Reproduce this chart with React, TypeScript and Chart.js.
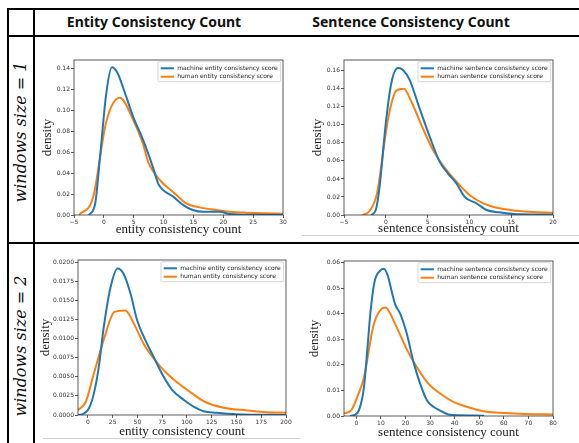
import React, { useEffect, useRef } from "react";
import { Chart, registerables } from "chart.js";
Chart.register(...registerables);

const BLUE = "#1f77b4";
const ORANGE = "#ff7f0e";

// ---------- column / row headers ----------
const columnHeaders = ["Entity Consistency Count", "Sentence Consistency Count"];
const rowHeaders = ["windows size = 1", "windows size = 2"];

// ---------- legend labels ----------
const entityLabels = ["machine entity consistency score", "human entity consistency score"];
const sentenceLabels = ["machine sentence consistency score", "human sentence consistency score"];

// ---------- window size 1, entity ----------
const e1MachineX = [-2.5, -1.45, -0.6, 0.4, 1.35, 2.25, 3.2, 4.9, 6.55, 8.2, 9.1, 9.9, 11.6, 13.3, 14.9, 16.6, 19.4, 21.1, 23.9, 30];
const e1MachineY = [0, 0.011, 0.058, 0.116, 0.141, 0.136, 0.122, 0.094, 0.072, 0.046, 0.03, 0.024, 0.0175, 0.0095, 0.0048, 0.003, 0.003, 0.001, 0.0003, 0.0003];
const e1HumanX = [-4.15, -1.8, 0.4, 2.65, 4.9, 6.55, 7.4, 9.6, 11.6, 13.8, 16.0, 18.8, 21.1, 23.9, 26.7, 30];
const e1HumanY = [0, 0.017, 0.089, 0.112, 0.091, 0.068, 0.051, 0.032, 0.022, 0.011, 0.0073, 0.0048, 0.0032, 0.0022, 0.0016, 0.0013];
const e1XTicks = [-5, 0, 5, 10, 15, 20, 25, 30];
const e1YTicks = [0, 0.02, 0.04, 0.06, 0.08, 0.1, 0.12, 0.14];

// ---------- window size 1, sentence ----------
const s1MachineX = [-1.75, -1.2, -0.75, 0, 0.65, 1.45, 2.05, 2.85, 4.05, 5.25, 6.45, 7.45, 8.45, 9.45, 10.85, 12.05, 13.6, 16.0, 20];
const s1MachineY = [0, 0.0055, 0.031, 0.102, 0.146, 0.163, 0.161, 0.15, 0.118, 0.087, 0.059, 0.046, 0.035, 0.02, 0.013, 0.0055, 0.003, 0.0007, 0.0004];
const s1HumanX = [-2.8, -1.95, -1.05, 0, 0.45, 1.25, 2.15, 3.05, 4.25, 5.65, 7.25, 8.85, 10.05, 11.65, 13.6, 15.6, 17.6, 20];
const s1HumanY = [0, 0.0044, 0.024, 0.091, 0.115, 0.138, 0.14, 0.126, 0.1, 0.072, 0.05, 0.033, 0.022, 0.013, 0.0074, 0.0048, 0.0033, 0.0026];
const s1XTicks = [-5, 0, 5, 10, 15, 20];
const s1YTicks = [0, 0.02, 0.04, 0.06, 0.08, 0.1, 0.12, 0.14, 0.16];

// ---------- window size 2, entity ----------
const e2MachineX = [-10, -4, 1, 6, 11, 16, 22.8, 30, 36, 43, 49.7, 58, 66.4, 76.5, 85, 96.6, 106.7, 116.8, 130, 150, 200];
const e2MachineY = [0, 0.0002, 0.00087, 0.0028, 0.0063, 0.0115, 0.0167, 0.0192, 0.0185, 0.0159, 0.0124, 0.0098, 0.0076, 0.005, 0.0033, 0.002, 0.0011, 0.0005, 0.0003, 0.0001, 0];
const e2HumanX = [-10, -2.3, 6, 16.8, 26.8, 37.9, 46.3, 56.4, 66.4, 80, 90, 103.4, 118.5, 137, 160.4, 177.2, 200];
const e2HumanY = [0.00065, 0.0017, 0.0054, 0.0102, 0.0135, 0.0137, 0.012, 0.0093, 0.0074, 0.0054, 0.0043, 0.003, 0.0017, 0.00096, 0.0006, 0.0004, 0.0003];
const e2XTicks = [0, 25, 50, 75, 100, 125, 150, 175, 200];
const e2YTicks = [0, 0.0025, 0.005, 0.0075, 0.01, 0.0125, 0.015, 0.0175, 0.02];

// ---------- window size 2, sentence ----------
const s2MachineX = [-2.5, -0.9, 1.1, 3.1, 4.4, 5.8, 7.4, 9.8, 11.2, 12.8, 14.6, 15.9, 17.9, 20.6, 23.3, 26, 28.7, 31.4, 34.1, 37.5, 42.2, 52];
const s2MachineY = [0, 0.0003, 0.0023, 0.011, 0.025, 0.041, 0.0525, 0.057, 0.0577, 0.055, 0.048, 0.0435, 0.04, 0.032, 0.021, 0.0126, 0.0062, 0.0036, 0.0021, 0.0006, 0.0003, 0.0001];
const s2HumanX = [-5, -2, 0.4, 3.1, 7.1, 11.85, 15.9, 20.6, 24.7, 29.4, 34.1, 39.5, 44.9, 51.6, 58.4, 66.5, 80];
const s2HumanY = [0.001, 0.0023, 0.0075, 0.015, 0.0358, 0.0425, 0.0358, 0.026, 0.019, 0.0126, 0.0088, 0.0055, 0.0036, 0.0019, 0.0013, 0.0009, 0.0006];
const s2XTicks = [0, 10, 20, 30, 40, 50, 60, 70, 80];
const s2YTicks = [0, 0.01, 0.02, 0.03, 0.04, 0.05, 0.06];

type PanelSpec = {
  left: number; top: number; w: number; h: number;
  xMin: number; xMax: number; yMax: number;
  xTicks: number[]; yTicks: number[]; yDec: number;
  mx: number[]; my: number[]; hx: number[]; hy: number[];
  labels: string[]; xTitle: string;
  yTitlePad: number; xTitlePad: number;
};

const PAD_L = 40, PAD_T = 5, PAD_R = 8, PAD_B = 26;

const frameLegendPlugin = {
  id: "frameLegend",
  afterDraw(chart: any) {
    const ctx = chart.ctx as CanvasRenderingContext2D;
    const { left, top, right, bottom } = chart.chartArea;
    ctx.save();
    ctx.strokeStyle = "#333";
    ctx.lineWidth = 0.8;
    ctx.strokeRect(left, top, right - left, bottom - top);

    ctx.font = '6px "DejaVu Sans"';
    const ds = chart.data.datasets;
    const textW = Math.max(...ds.map((d: any) => ctx.measureText(d.label).width));
    const padX = 2.7, lineLen = 13.3, gap = 3.3, rowH = 8.4;
    const w = padX + lineLen + gap + textW + 3;
    const h = rowH * ds.length + 3.2;
    const x0 = right - 2.3 - w;
    const y0 = top + 1.7;
    ctx.beginPath();
    (ctx as any).roundRect(x0, y0, w, h, 1.5);
    ctx.fillStyle = "rgba(255,255,255,0.8)";
    ctx.fill();
    ctx.strokeStyle = "#cccccc";
    ctx.lineWidth = 0.8;
    ctx.stroke();
    ds.forEach((d: any, i: number) => {
      const cy = y0 + 6.6 + i * rowH;
      ctx.beginPath();
      ctx.moveTo(x0 + padX, cy);
      ctx.lineTo(x0 + padX + lineLen, cy);
      ctx.strokeStyle = d.borderColor;
      ctx.lineWidth = 2;
      ctx.stroke();
      ctx.fillStyle = "#222";
      ctx.textBaseline = "middle";
      ctx.textAlign = "left";
      ctx.fillText(d.label, x0 + padX + lineLen + gap, cy);
    });
    ctx.restore();
  },
};

function DensityPanel({ p }: { p: PanelSpec }) {
  const ref = useRef<HTMLCanvasElement>(null);
  useEffect(() => {
    if (!ref.current) return;
    const tickFont = { family: "DejaVu Sans", size: 6 };
    const titleFont = { family: "Liberation Serif", size: 13 };
    const chart = new Chart(ref.current, {
      type: "line",
      data: {
        datasets: [
          {
            label: p.labels[0],
            data: p.mx.map((x, i) => ({ x, y: p.my[i] })),
            borderColor: BLUE,
            borderWidth: 2,
            pointRadius: 0,
            cubicInterpolationMode: "monotone",
            fill: false,
          },
          {
            label: p.labels[1],
            data: p.hx.map((x, i) => ({ x, y: p.hy[i] })),
            borderColor: ORANGE,
            borderWidth: 2,
            pointRadius: 0,
            cubicInterpolationMode: "monotone",
            fill: false,
          },
        ],
      },
      options: {
        animation: false,
        responsive: false,
        devicePixelRatio: window.devicePixelRatio || 1,
        layout: { padding: { left: 0, top: PAD_T, right: PAD_R, bottom: 0 } },
        plugins: { legend: { display: false }, tooltip: { enabled: false } },
        scales: {
          x: {
            type: "linear",
            min: p.xMin,
            max: p.xMax,
            afterBuildTicks: (s: any) => {
              s.ticks = p.xTicks.map((v) => ({ value: v }));
            },
            afterFit: (s: any) => {
              s.height = PAD_B;
              s.paddingLeft = 0;
              s.paddingRight = 0;
            },
            ticks: {
              font: tickFont,
              color: "#333",
              padding: 1,
              maxRotation: 0,
              autoSkip: false,
              callback: (v: any) => String(v).replace("-", "\u2212"),
            },
            grid: { display: true, drawOnChartArea: false, tickLength: 3, color: "#333", lineWidth: 0.8 },
            border: { display: false },
            title: {
              display: true,
              text: p.xTitle,
              font: titleFont,
              color: "#222",
              padding: { top: 0, bottom: p.xTitlePad },
            },
          },
          y: {
            type: "linear",
            min: 0,
            max: p.yMax,
            afterBuildTicks: (s: any) => {
              s.ticks = p.yTicks.map((v) => ({ value: v }));
            },
            afterFit: (s: any) => {
              s.width = PAD_L;
              s.paddingTop = 0;
              s.paddingBottom = 0;
            },
            ticks: {
              font: tickFont,
              color: "#333",
              padding: 1,
              autoSkip: false,
              callback: (v: any) => Number(v).toFixed(p.yDec),
            },
            grid: { display: true, drawOnChartArea: false, tickLength: 3, color: "#333", lineWidth: 0.8 },
            border: { display: false },
            title: {
              display: true,
              text: "density",
              font: titleFont,
              color: "#222",
              padding: { top: p.yTitlePad, bottom: 0 },
            },
          },
        },
      },
      plugins: [frameLegendPlugin],
    } as any);
    return () => chart.destroy();
  }, [p]);
  return (
    <canvas
      ref={ref}
      width={p.w + PAD_L + PAD_R}
      height={p.h + PAD_T + PAD_B}
      style={{ position: "absolute", left: p.left - PAD_L, top: p.top - PAD_T }}
    />
  );
}

const panels: PanelSpec[] = [
  {
    left: 74, top: 60, w: 209, h: 155, xMin: -5, xMax: 30, yMax: 0.148,
    xTicks: e1XTicks, yTicks: e1YTicks, yDec: 2,
    mx: e1MachineX, my: e1MachineY, hx: e1HumanX, hy: e1HumanY,
    labels: entityLabels, xTitle: "entity consistency count", yTitlePad: 6.2, xTitlePad: 3.2,
  },
  {
    left: 344, top: 60, w: 209, h: 155, xMin: -5, xMax: 20, yMax: 0.172,
    xTicks: s1XTicks, yTicks: s1YTicks, yDec: 2,
    mx: s1MachineX, my: s1MachineY, hx: s1HumanX, hy: s1HumanY,
    labels: sentenceLabels, xTitle: "sentence consistency count", yTitlePad: 6.2, xTitlePad: 4.2,
  },
  {
    left: 78, top: 260, w: 208, h: 155, xMin: -10, xMax: 200, yMax: 0.0203,
    xTicks: e2XTicks, yTicks: e2YTicks, yDec: 4,
    mx: e2MachineX, my: e2MachineY, hx: e2HumanX, hy: e2HumanY,
    labels: entityLabels, xTitle: "entity consistency count", yTitlePad: 0.2, xTitlePad: 1.2,
  },
  {
    left: 344, top: 261, w: 209, h: 155, xMin: -5, xMax: 80, yMax: 0.0607,
    xTicks: s2XTicks, yTicks: s2YTicks, yDec: 2,
    mx: s2MachineX, my: s2MachineY, hx: s2HumanX, hy: s2HumanY,
    labels: sentenceLabels, xTitle: "sentence consistency count", yTitlePad: 3.2, xTitlePad: 1.2,
  },
];

const hLine = (top: number, left: number, width: number, color = "#000", thick = 1.5): React.CSSProperties => ({
  position: "absolute", top, left, width, height: thick, background: color,
});
const vLine = (left: number, top: number, height: number): React.CSSProperties => ({
  position: "absolute", top, left, width: 1.5, height, background: "#000",
});

export default function App() {
  return (
    <div style={{ position: "absolute", left: 0, top: 0, width: 579, height: 443, background: "#fff", overflow: "hidden" }}>
      <div style={hLine(8, 7, 572)} />
      <div style={hLine(35, 7, 572)} />
      <div style={hLine(242, 7, 572)} />
      <div style={vLine(7, 8, 435)} />
      <div style={vLine(33, 8, 435)} />
      <div style={hLine(235, 302, 277, "#d0d0d0", 1)} />
      <div style={hLine(438, 43, 257, "#d0d0d0", 1)} />

      {columnHeaders.map((t, i) => (
        <div
          key={t}
          style={{
            position: "absolute", left: i === 0 ? 154 : 411, top: 21,
            transform: "translate(-50%, -50%)", whiteSpace: "nowrap",
            fontFamily: '"Noto Sans", sans-serif', fontWeight: 700, fontSize: 14, color: "#111",
          }}
        >
          {t}
        </div>
      ))}
      {rowHeaders.map((t, i) => (
        <div
          key={t}
          style={{
            position: "absolute", left: 20, top: i === 0 ? 132 : 346,
            transform: "translate(-50%, -50%) rotate(-90deg)", whiteSpace: "nowrap",
            fontFamily: '"DejaVu Serif", serif', fontStyle: "italic", fontSize: 16, color: "#111",
          }}
        >
          {t}
        </div>
      ))}

      {panels.map((p, i) => (
        <DensityPanel key={i} p={p} />
      ))}
    </div>
  );
}
